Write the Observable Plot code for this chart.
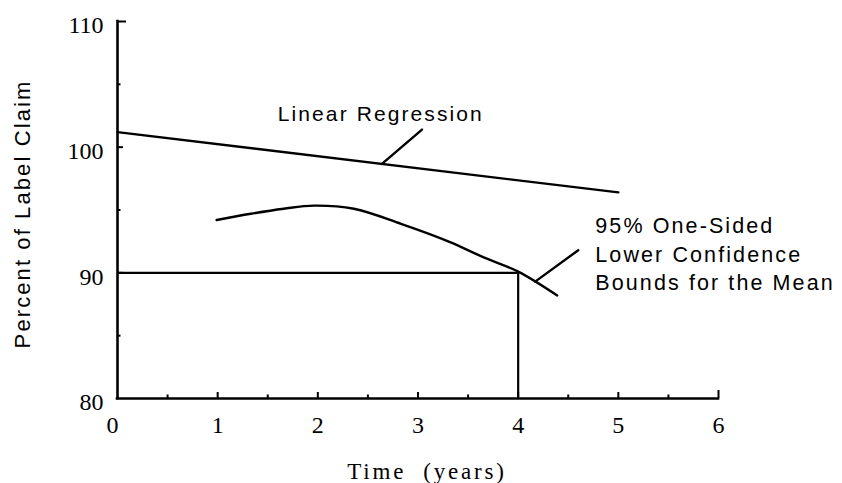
<!DOCTYPE html>
<html>
<head>
<meta charset="utf-8">
<script src="https://cdn.jsdelivr.net/npm/d3@7"></script>
<script src="https://cdn.jsdelivr.net/npm/@observablehq/plot@0.6"></script>
<style>
  html, body { margin: 0; padding: 0; background: #fff; }
  #chart svg { display: block; }
</style>
</head>
<body>
<div id="chart"></div>
<script>
// Axis ticks
const timeTicks = [0, 1, 2, 3, 4, 5, 6];
const timeMinorTicks = [0.5, 1.5, 2.5, 3.5, 4.5, 5.5];
const percentTicks = [80, 90, 100, 110];
const percentMinorTicks = [85, 95, 105];

// Fitted linear regression of potency on time
const regressionTime = [0, 5];
const regressionPercent = [101.2, 96.4];

// 95% one-sided lower confidence bound for the mean
const boundTime = [0.99, 1.33, 1.66, 1.96, 2.36, 2.83, 3.32, 3.65, 4.0, 4.39];
const boundPercent = [94.2, 94.7, 95.1, 95.35, 95.1, 93.9, 92.45, 91.25, 90.1, 88.2];

// Specification limit and the resulting shelf life
const specLimit = 90;
const shelfLife = 4;

// Leader lines from the labels to their curves
const regressionLeaderTime = [2.64, 3.04];
const regressionLeaderPercent = [98.67, 101.4];
const boundLeaderTime = [4.17, 4.6];
const boundLeaderPercent = [89.3, 91.8];

// Texts
const regressionLabel = "Linear Regression";
const boundLabel = ["95% One-Sided", "Lower Confidence", "Bounds for the Mean"];
const xTitle = "Time\u00a0\u00a0(years)";
const yTitle = "Percent of Label Claim";

const W = 842, H = 483;
const mL = 117, mR = 124, mT = 21, mB = 85;
const pxX = (6 - 0) / (W - mL - mR);   // time units per pixel
const pxY = (110 - 80) / (H - mT - mB); // percent units per pixel

const sans = "'Liberation Sans', Arial, Helvetica, sans-serif";
const serif = "'Liberation Serif', 'Times New Roman', serif";

const pts = (xs, ys) => xs.map((x, i) => ({x, y: ys[i]}));

const chart = Plot.plot({
  width: W,
  height: H,
  marginLeft: mL,
  marginRight: mR,
  marginTop: mT,
  marginBottom: mB,
  x: {domain: [0, 6], axis: null},
  y: {domain: [80, 110], axis: null},
  style: {background: "#fff", color: "#000", overflow: "visible"},
  marks: [
    // axes
    Plot.ruleY([80], {x1: 0, x2: 6, stroke: "#000", strokeWidth: 2.6, strokeLinecap: "square"}),
    Plot.ruleX([0], {y1: 80, y2: 110, stroke: "#000", strokeWidth: 2.6, strokeLinecap: "square"}),
    // x ticks (pointing up into the plot)
    Plot.ruleX(timeTicks.filter(d => d > 0), {x: d => d, y1: 80, y2: d => 80 + (d === 6 ? 8 : 6) * pxY, stroke: "#000", strokeWidth: 2}),
    Plot.ruleX(timeMinorTicks, {x: d => d, y1: 80, y2: 80 + 3.5 * pxY, stroke: "#000", strokeWidth: 2}),
    // y ticks (pointing right into the plot)
    Plot.ruleY(percentTicks.filter(d => d > 80), {y: d => d, x1: 0, x2: d => (d === 110 ? 9 : 6) * pxX, stroke: "#000", strokeWidth: 2}),
    Plot.ruleY(percentMinorTicks, {y: d => d, x1: 0, x2: 3.5 * pxX, stroke: "#000", strokeWidth: 2}),
    // tick labels
    Plot.text(timeTicks.filter(d => d === 0), {x: d => d, y: 80, dx: -5, dy: 27, text: d => String(d), fontFamily: serif, fontSize: 24, fill: "#000"}),
    Plot.text(timeTicks.filter(d => d > 0), {x: d => d, y: 80, dy: 27, text: d => String(d), fontFamily: serif, fontSize: 24, fill: "#000"}),
    Plot.text(percentTicks, {x: 0, y: d => d, dx: -14, dy: 4, textAnchor: "end", text: d => String(d), fontFamily: serif, fontSize: 24, fill: "#000"}),
    // specification limit and shelf-life drop line
    Plot.ruleY([specLimit], {x1: 0, x2: shelfLife, stroke: "#000", strokeWidth: 2.2}),
    Plot.ruleX([shelfLife], {y1: 80, y2: specLimit, stroke: "#000", strokeWidth: 2.2}),
    // regression line and confidence bound
    Plot.line(pts(regressionTime, regressionPercent), {x: "x", y: "y", stroke: "#000", strokeWidth: 2.4}),
    Plot.line(pts(boundTime, boundPercent), {x: "x", y: "y", curve: "catmull-rom", stroke: "#000", strokeWidth: 2.4, strokeLinecap: "round"}),
    // leader lines
    Plot.line(pts(regressionLeaderTime, regressionLeaderPercent), {x: "x", y: "y", stroke: "#000", strokeWidth: 2.4}),
    Plot.line(pts(boundLeaderTime, boundLeaderPercent), {x: "x", y: "y", stroke: "#000", strokeWidth: 2.4}),
    // annotations
    Plot.text([regressionLabel], {x: 1.6, y: 102.1, text: d => d, textAnchor: "start", lineAnchor: "bottom", fontFamily: sans, fontSize: 21, fill: "#000"}),
    Plot.text([boundLabel.join("\n")], {x: 4.77, y: 88.6, text: d => d, textAnchor: "start", lineAnchor: "bottom", lineHeight: 1.33, fontFamily: sans, fontSize: 21.5, fill: "#000"}),
    // axis titles
    Plot.text([xTitle], {frameAnchor: "bottom", dx: 9, dy: 80, lineAnchor: "bottom", text: d => d, fontFamily: serif, fontSize: 23, fill: "#000"}),
    Plot.text([yTitle], {frameAnchor: "left", textAnchor: "middle", dx: -95, dy: 4, rotate: -90, text: d => d, fontFamily: sans, fontSize: 22, fill: "#000"})
  ]
});

// looser letter spacing, as in the typeset lettering
chart.querySelectorAll("g[font-family]").forEach(g => {
  const ff = g.getAttribute("font-family");
  if (ff.includes("Sans")) g.setAttribute("letter-spacing", "2.1");
});
chart.querySelectorAll("text").forEach(t => {
  if (t.textContent.startsWith("Time")) t.setAttribute("letter-spacing", "2.8");
});

document.getElementById("chart").appendChild(chart);
</script>
</body>
</html>
